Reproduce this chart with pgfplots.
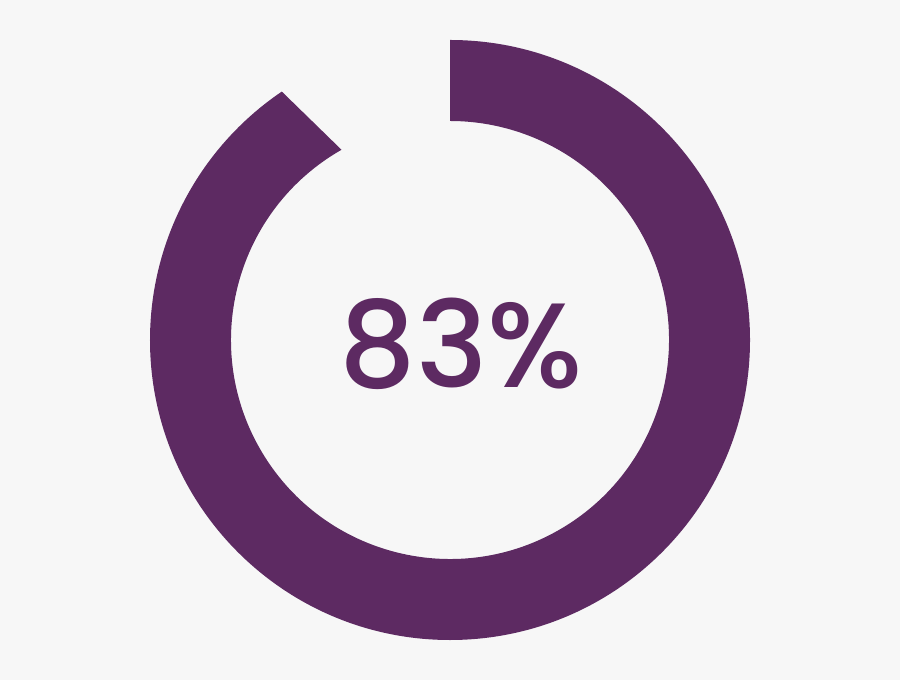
\documentclass[border=0pt]{standalone}
\usepackage{pgfplots}
\pgfplotsset{compat=1.18}
\usepackage{fontspec}
\setmainfont{Poppins}[UprightFont=* Medium]
\definecolor{bg}{HTML}{F7F7F7}
\definecolor{ring}{HTML}{5D2A62}
% donut data: value shown, ring geometry (pixels / degrees)
\def\pctvalue{83}
\def\cx{450}\def\cy{340}
\def\rout{300}\def\rin{219}
\def\startang{90}
\def\outerend{-235.9}
\def\innerend{-240.3}
\begin{document}
\begin{tikzpicture}
\begin{axis}[
  width=900bp, height=680bp, scale only axis,
  xmin=0, xmax=900, ymin=0, ymax=680,
  hide axis, clip=false]
\addplot[fill=bg, draw=none] coordinates {(0,0) (900,0) (900,680) (0,680)} -- cycle;
\fill[ring] (axis cs:\cx,{\cy+\rout})
  arc[start angle=\startang, end angle=\outerend, radius=\rout bp]
  -- (axis cs:{\cx+\rin*cos(\innerend)},{\cy+\rin*sin(\innerend)})
  arc[start angle=\innerend, end angle=\startang, radius=\rin bp]
  -- cycle;
\node[anchor=base, inner sep=0pt, text=ring] at (axis cs:461.5,292.5)
  {\fontsize{120bp}{120bp}\selectfont \pctvalue\%};
\end{axis}
\end{tikzpicture}
\end{document}
